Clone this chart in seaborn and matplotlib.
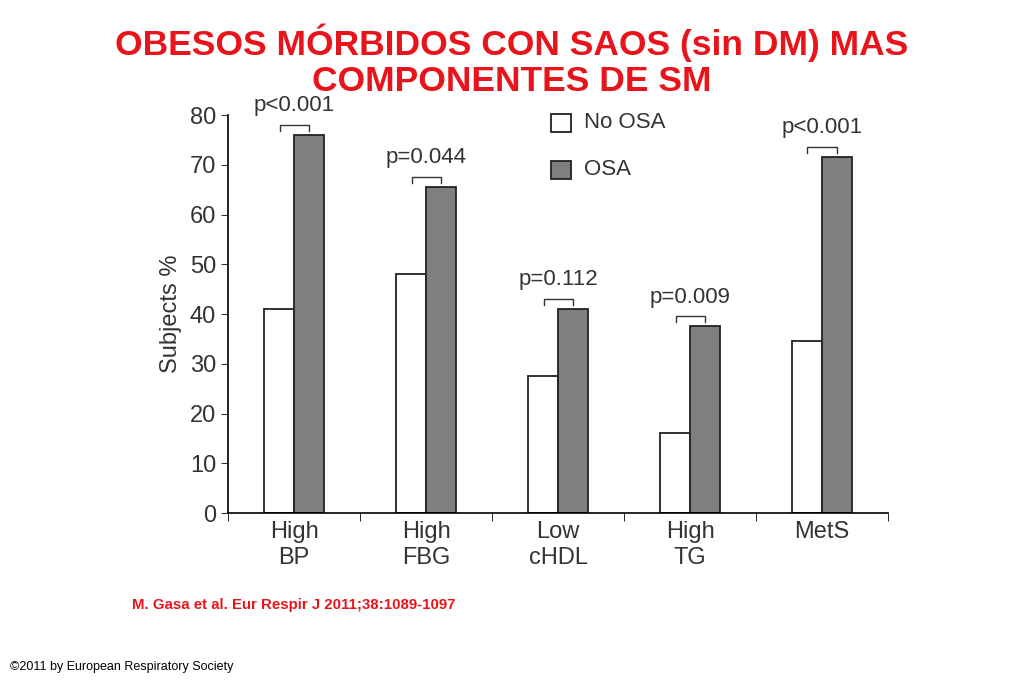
import pandas as pd
import numpy as np
import matplotlib
matplotlib.use("Agg")
import matplotlib.pyplot as plt
import seaborn as sns

categories = ["High\nBP", "High\nFBG", "Low\ncHDL", "High\nTG", "MetS"]
no_osa = [41, 48, 27.5, 16, 34.5]
osa = [76, 65.5, 41, 37.5, 71.5]
p_labels = ["p<0.001", "p=0.044", "p=0.112", "p=0.009", "p<0.001"]

df = pd.DataFrame({
    "cat": categories * 2,
    "val": no_osa + osa,
    "grp": ["No OSA"] * 5 + ["OSA"] * 5,
})

plt.rcParams["font.family"] = "Liberation Sans"
fig = plt.figure(figsize=(10.24, 6.83), dpi=100)
ax = fig.add_axes([0.2227, 0.2489, 0.6445, 0.5827])
sns.barplot(data=df, x="cat", y="val", hue="grp", palette=["white", "#7f7f7f"],
            width=0.455, edgecolor="#222222", linewidth=1.3, ax=ax, legend=False)
ax.set_xlim(-0.5, 4.5)
ax.set_ylim(0, 80)
ax.set_yticks(range(0, 81, 10))
ax.set_xlabel("")
ax.set_ylabel("Subjects %", fontsize=17, color="#333333", labelpad=6)
ax.tick_params(axis="y", labelsize=17, colors="#333333", length=5)
ax.tick_params(axis="x", labelsize=17, colors="#333333", length=0, pad=6)
ax.set_xticks(np.arange(-0.5, 5, 1), minor=True)
ax.tick_params(axis="x", which="minor", length=6)
sns.despine(ax=ax)
for s in ["left", "bottom"]:
    ax.spines[s].set_linewidth(1.2)

for i, p in enumerate(p_labels):
    top = max(no_osa[i], osa[i]) + 2
    ax.plot([i - 0.11, i - 0.11, i + 0.11, i + 0.11], [top - 1.2, top, top, top - 1.2],
            color="#333333", lw=1)
    ax.text(i, top + 1.8, p, ha="center", va="bottom", fontsize=16, color="#333333")

# legend
ax.add_patch(plt.Rectangle((1.95, 76.6), 0.15, 3.6, facecolor="white",
                           edgecolor="#222222", lw=1.3, clip_on=False))
ax.add_patch(plt.Rectangle((1.95, 67.2), 0.15, 3.6, facecolor="#7f7f7f",
                           edgecolor="#222222", lw=1.3, clip_on=False))
ax.text(2.2, 78.4, "No OSA", va="center", fontsize=16, color="#333333")
ax.text(2.2, 69, "OSA", va="center", fontsize=16, color="#333333")

fig.text(0.5, 0.937, "OBESOS MÓRBIDOS CON SAOS (sin DM) MAS", ha="center", va="center",
         fontsize=25.5, fontweight="bold", color="#e8141b")
fig.text(0.5, 0.88, "COMPONENTES DE SM", ha="center", va="center",
         fontsize=25.5, fontweight="bold", color="#e8141b")
fig.text(0.129, 0.114, "M. Gasa et al. Eur Respir J 2011;38:1089-1097", ha="left", va="center",
         fontsize=10.8, fontweight="bold", color="#e8141b")
fig.text(0.01, 0.024, "©2011 by European Respiratory Society", ha="left", va="center",
         fontsize=9, color="black")
fig.savefig("out.png", dpi=100)
